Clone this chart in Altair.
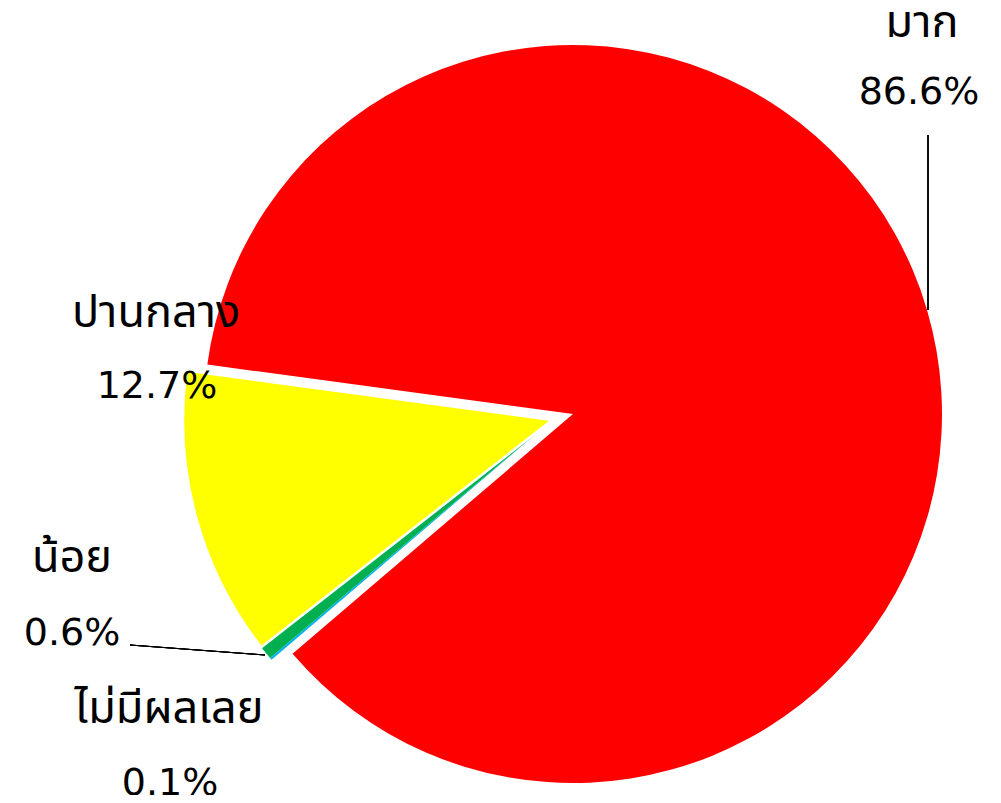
import math
import altair as alt
import pandas as pd

# ---- data ----
CATEGORIES = ["มาก", "ไม่มีผลเลย", "น้อย", "ปานกลาง"]
VALUES = [86.6, 0.1, 0.6, 12.7]
COLORS = ["#FF0000", "#00B0F0", "#00B050", "#FFFF00"]

df = pd.DataFrame({"cat": CATEGORIES, "value": VALUES, "order": list(range(len(CATEGORIES)))})

# ---- layout ----
W, H = 985, 787
R = 369
CENTER_MAIN = (565, 406)      # red slice
CENTER_OUT = (544, 412)       # exploded slices
START = math.radians(277.7)

NAME_X = [914, 161, 64, 148]
NAME_Y = [29, 715, 564, 319]
PCT_X = [911, 162, 64, 149]
PCT_Y = [96, 787, 637, 390]
FONT = "DejaVu Sans, Noto Sans Thai, Noto Sans, sans-serif"

theta_scale = alt.Scale(domain=[0, 100], range=[START, START + 2 * math.pi])
color_scale = alt.Scale(domain=CATEGORIES, range=COLORS)

base = (
    alt.Chart(df)
    .transform_window(end="sum(value)", sort=[{"field": "order"}], frame=[None, 0])
    .transform_calculate(start="datum.end - datum.value")
)

def arcs(cats, center, stroke=None, sw=0):
    kw = dict(outerRadius=R)
    if stroke:
        kw.update(stroke=stroke, strokeWidth=sw)
    return (
        base.transform_filter(alt.FieldOneOfPredicate(field="cat", oneOf=cats))
        .mark_arc(**kw)
        .encode(
            theta=alt.Theta("start:Q", scale=theta_scale),
            theta2="end:Q",
            color=alt.Color("cat:N", scale=color_scale, legend=None),
            x=alt.value(center[0]),
            y=alt.value(center[1]),
        )
    )

red = arcs(["มาก"], CENTER_MAIN)
small = arcs(["ไม่มีผลเลย", "น้อย"], CENTER_OUT)
yellow = arcs(["ปานกลาง"], CENTER_OUT, stroke="white", sw=2.5)

lab_df = pd.DataFrame({
    "cat": CATEGORIES,
    "value": VALUES,
    "nx": NAME_X, "ny": NAME_Y, "px": PCT_X, "py": PCT_Y,
})
lab_base = alt.Chart(lab_df)
names = lab_base.mark_text(font=FONT, fontSize=45, align="center", baseline="alphabetic",
                           color="black").encode(
    text="cat:N",
    x=alt.X("nx:Q", scale=None),
    y=alt.Y("ny:Q", scale=None),
)
pcts = (
    lab_base.transform_calculate(txt="format(datum.value, '.1f') + '%'")
    .mark_text(font=FONT, fontSize=38, align="center", baseline="alphabetic", color="black")
    .encode(
        text="txt:N",
        x=alt.X("px:Q", scale=None),
        y=alt.Y("py:Q", scale=None),
    )
)

lead1 = alt.Chart(df).mark_rule(color="black", strokeWidth=1).encode(
    x=alt.value(920), y=alt.value(127), x2=alt.value(920), y2=alt.value(302))
lead2 = alt.Chart(df).mark_rule(color="black", strokeWidth=1).encode(
    x=alt.value(122), y=alt.value(637), x2=alt.value(257), y2=alt.value(647))

chart = (
    alt.layer(red, small, yellow, lead1, lead2, names, pcts)
    .properties(width=W, height=H, autosize=alt.AutoSizeParams(type="none"), padding=0)
    .configure_view(stroke=None)
)

chart.save("out.html", embed_options={"renderer": "svg", "actions": False})
